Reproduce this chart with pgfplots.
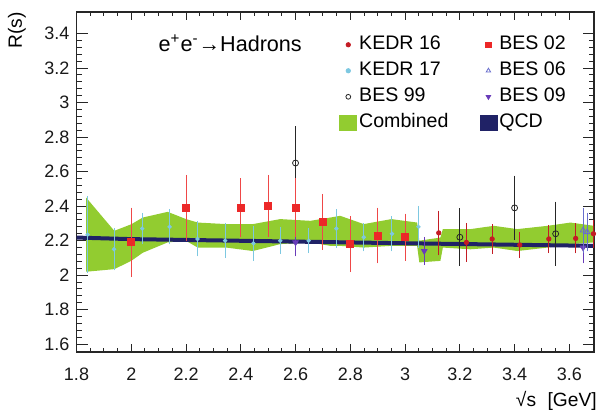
\documentclass[border=0pt]{standalone}
\usepackage{fontspec}
\setmainfont{Liberation Sans}
\usepackage{pgfplots}
\usepackage{pgfplotstable}
\pgfplotsset{compat=1.18}
\definecolor{bred}{RGB}{236,40,40}
\definecolor{kred}{RGB}{196,28,36}
\definecolor{kcyan}{RGB}{125,200,225}
\definecolor{bblue}{RGB}{105,110,205}
\definecolor{bpurp}{RGB}{105,60,185}
\definecolor{cgreen}{RGB}{146,204,48}
\definecolor{qnavy}{RGB}{32,34,102}

\pgfplotstableread{
x y
1.835 2.45
1.938 2.257
2.0 2.295
2.042 2.334
2.133 2.367
2.2 2.325
2.243 2.305
2.347 2.296
2.444 2.296
2.544 2.325
2.654 2.315
2.727 2.334
2.763 2.344
2.849 2.296
2.95 2.325
3.044 2.305
3.052 2.20
3.129 2.218
3.138 2.267
3.239 2.267
3.324 2.286
3.41 2.267
3.52 2.286
3.604 2.305
3.69 2.286
3.69 2.19
3.604 2.18
3.52 2.16
3.41 2.14
3.324 2.16
3.239 2.15
3.138 2.16
3.129 2.083
3.052 2.074
3.044 2.17
2.95 2.17
2.849 2.16
2.763 2.17
2.727 2.17
2.654 2.19
2.544 2.18
2.444 2.14
2.347 2.16
2.243 2.16
2.2 2.199
2.133 2.19
2.042 2.13
2.0 2.083
1.938 2.035
1.835 2.02
}\band

\pgfplotstableread{
x y
1.8 2.218
2.0 2.209
2.5 2.197
3.0 2.185
3.69 2.17
}\qcd

\pgfplotstableread{
x y e
3.123 2.245 0.118
3.224 2.19 0.10
3.318 2.21 0.075
3.419 2.175 0.065
3.525 2.21 0.07
3.623 2.213 0.075
3.688 2.24 0.07
}\kedrA

\pgfplotstableread{
x y e
2.0 2.19 0.19
2.2 2.39 0.18
2.4 2.39 0.16
2.5 2.40 0.17
2.6 2.39 0.16
2.7 2.31 0.15
2.8 2.18 0.15
2.9 2.23 0.15
3.0 2.22 0.125
}\besB

\pgfplotstableread{
x y e
1.841 2.235 0.21
1.937 2.15 0.11
2.040 2.27 0.08
2.140 2.28 0.09
2.242 2.21 0.09
2.343 2.20 0.09
2.446 2.185 0.09
2.544 2.20 0.065
2.648 2.20 0.06
2.749 2.27 0.10
2.849 2.22 0.07
2.952 2.24 0.09
3.049 2.28 0.11
}\kedrB

\pgfplotstableread{
x y e
2.6 2.65 0.20
3.2 2.22 0.155
3.4 2.39 0.175
3.55 2.24 0.175
}\besA

\pgfplotstableread{
x y e
3.650 2.26 0.12
3.665 2.25 0.10
}\besC

\pgfplotstableread{
x y e
2.6 2.19 0.07
3.07 2.14 0.07
3.65 2.16 0.08
}\besD

\pgfplotsset{
  mleg/.style={legend image code/.code={\draw[##1] plot coordinates {(4.25pt,0pt)};}},
  bleg/.style={legend image code/.code={\fill[##1] (0pt,-3.75pt) rectangle (8.5pt,3.75pt);}},
  ebar/.style={error bars/.cd, y dir=both, y explicit,
     error bar style={line width=0.5pt, #1},
     error mark options={line width=0.5pt, mark size=1pt, #1}},
}

\begin{document}
\begin{tikzpicture}
\begin{axis}[
  scale only axis,
  width=258.75pt, height=170pt,
  xmin=1.8, xmax=3.69, ymin=1.555, ymax=3.525,
  xtick={1.8,2,2.2,2.4,2.6,2.8,3,3.2,3.4,3.6},
  ytick={1.6,1.8,2,2.2,2.4,2.6,2.8,3,3.2,3.4},
  minor x tick num=3, minor y tick num=4,
  xtick style={/pgfplots/major tick length=4pt, /pgfplots/minor tick length=2pt, line width=0.5pt, black!85},
  ytick style={/pgfplots/major tick length=5.5pt, /pgfplots/minor tick length=2.75pt, line width=0.5pt, black!85},
  axis line style={line width=0.6pt, black!85},
  /pgf/number format/assume math mode=true,
  ticklabel style={font=\fontsize{9}{10}\selectfont, black!90},
  xticklabel style={yshift=-4.5pt},
  ylabel={R(s)},
  ylabel style={at={(axis description cs:-0.133,1.0)}, anchor=north east, inner sep=0pt, font=\fontsize{9.6}{11}\selectfont},
  xlabel={√s\hspace{0.6em}[GeV]},
  xlabel style={at={(axis description cs:1.006,-0.159)}, anchor=base east, inner sep=0pt, font=\fontsize{9.6}{11}\selectfont},
  clip mode=individual,
  legend columns=2,
  legend cell align=left,
  legend style={at={(rel axis cs:0.508,0.93)}, anchor=north west, draw=none, fill=none,
    inner sep=0pt, outer sep=0pt, font=\fontsize{9.8}{11}\selectfont, row sep=4pt,
    nodes={inner xsep=1pt, inner ysep=0pt, text height=7pt, text depth=2pt},
    /tikz/every even column/.append style={column sep=14.5pt}},
]
\addplot[fill=cgreen, draw=none, forget plot] table[x=x,y=y] {\band};
\addplot[qnavy, line width=2pt, forget plot] table[x=x,y=y] {\qcd};

\addplot[only marks, mark=*, mark size=0.9pt, color=kcyan, forget plot, ebar=kcyan] table[x=x,y=y,y error=e] {\kedrB};
\addplot[only marks, mark=triangle*, mark size=1.6pt, mark options={rotate=180}, color=bpurp, forget plot, ebar=bpurp] table[x=x,y=y,y error=e] {\besD};
\addplot[only marks, mark=triangle, mark size=1.6pt, color=bblue, forget plot, ebar=bblue] table[x=x,y=y,y error=e] {\besC};
\addplot[only marks, mark=o, mark size=1.5pt, color=black!85, forget plot, ebar=black!85] table[x=x,y=y,y error=e] {\besA};
\addplot[only marks, mark=square*, mark size=1.75pt, color=bred, forget plot, ebar=bred!85] table[x=x,y=y,y error=e] {\besB};
\addplot[only marks, mark=*, mark size=1.1pt, color=kred, forget plot, ebar=kred] table[x=x,y=y,y error=e] {\kedrA};

\addlegendimage{mleg, only marks, mark=*, mark size=1.1pt, kred}
\addlegendentry{KEDR 16}
\addlegendimage{mleg, only marks, mark=square*, mark size=1.3pt, bred}
\addlegendentry{BES 02}
\addlegendimage{mleg, only marks, mark=*, mark size=1.1pt, kcyan}
\addlegendentry{KEDR 17}
\addlegendimage{mleg, only marks, mark=triangle, mark size=1.3pt, bblue}
\addlegendentry{BES 06}
\addlegendimage{mleg, only marks, mark=o, mark size=1.2pt, black!85}
\addlegendentry{BES 99}
\addlegendimage{mleg, only marks, mark=triangle*, mark options={rotate=180}, mark size=1.3pt, bpurp}
\addlegendentry{BES 09}
\addlegendimage{bleg, cgreen}
\addlegendentry{Combined}
\addlegendimage{bleg, qnavy}
\addlegendentry{QCD}

\node[anchor=base west, inner sep=0pt, font=\fontsize{10.8}{12}\selectfont] at (rel axis cs:0.158,0.885) {e\textsuperscript{+}e\textsuperscript{-}→Hadrons};
\end{axis}
\path[use as bounding box] (-38.25pt,-31.5pt) rectangle (260.75pt,176pt);
\end{tikzpicture}
\end{document}
